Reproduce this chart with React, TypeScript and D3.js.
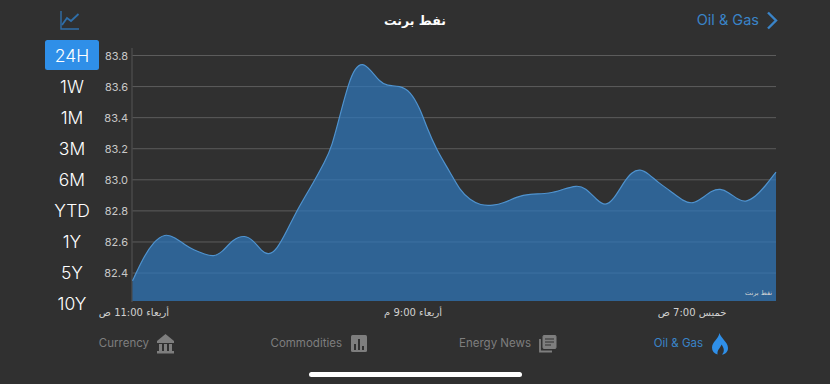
import React from "react";
import * as d3 from "d3";

const hours = [0,.39,.75,1.16,1.52,1.88,2.18,2.6,2.9,3.2,3.61,4.03,4.33,4.63,4.87,5.17,5.53,5.94,6.48,6.9,7.14,7.44,7.74,7.97,8.25,8.51,8.87,9.11,9.59,9.95,10.3,10.54,10.9,11.38,11.74,12.1,12.46,12.93,13.29,13.77,14.19,14.97,15.44,15.92,16.22,16.64,16.94,17.23,17.59,17.89,18.19,18.49,18.85,19.27,19.74,20.1,20.4,20.76,21.06,21.36,21.72,21.96,22.32,22.68,23.06];
const prices = [82.35,82.5,82.6,82.655,82.63,82.58,82.55,82.52,82.505,82.53,82.62,82.645,82.61,82.54,82.515,82.55,82.67,82.82,82.98,83.12,83.21,83.42,83.62,83.72,83.755,83.71,83.63,83.605,83.605,83.57,83.46,83.34,83.19,83.05,82.93,82.87,82.835,82.835,82.85,82.89,82.91,82.91,82.94,82.965,82.95,82.87,82.83,82.87,82.98,83.05,83.07,83.04,82.98,82.93,82.86,82.845,82.88,82.93,82.945,82.92,82.87,82.855,82.89,82.96,83.05];
const yTicks = [82.4,82.6,82.8,83.0,83.2,83.4,83.6,83.8];
const xTicks = [
  { h: 0, label: "أربعاء 11:00 ص" },
  { h: 10, label: "أربعاء 9:00 م" },
  { h: 20, label: "خميس 7:00 ص" },
];
const ranges = ["24H","1W","1M","3M","6M","YTD","1Y","5Y","10Y"];
const title = "نفط برنت";

const latin = "Inter, 'Liberation Sans', sans-serif";
const arabic = "'DejaVu Sans', sans-serif";
const BLUE = "#3a84c8";

const x = d3.scaleLinear().domain([0, 23.06]).range([132.5, 776]);
const y = d3.scaleLinear().domain([82.22, 83.8]).range([301, 55.5]);
const pts = hours.map((h, i) => [h, prices[i]] as [number, number]);
const area = d3.area<[number, number]>().x(d => x(d[0])).y0(y(82.22)).y1(d => y(d[1])).curve(d3.curveBasis);
const line = d3.line<[number, number]>().x(d => x(d[0])).y(d => y(d[1])).curve(d3.curveBasis);
const rangeY = d3.scalePoint<string>().domain(ranges).range([55, 303]);

function Tab({ label, tx, color }: { label: string; tx: number; color: string }) {
  return <text x={tx} y={347} textAnchor="end" fontFamily={latin} fontSize={11.5} fill={color}>{label}</text>;
}

export default function App() {
  return (
    <svg width={830} height={384} style={{ position: "fixed", left: 0, top: 0, background: "#303030" }}>
      <rect width={830} height={384} fill="#303030" />
      {/* chart-type icon */}
      <g fill="none" stroke="#2f6ea8" strokeWidth={1.4}>
        <path d="M61 11V29H79" />
        <path d="M62 25L67 18L71 21L78.5 14" strokeWidth={1.8} />
      </g>
      <text x={415} y={24.5} textAnchor="middle" fontFamily={arabic} fontWeight="bold" fontSize={12.5} fill="#fff" style={{ direction: "rtl" }}>{title}</text>
      <text x={759} y={25} textAnchor="end" fontFamily={latin} fontSize={14.5} fill={BLUE}>Oil &amp; Gas</text>
      <path d="M768 12.500L776 20.500L768 28.500" fill="none" stroke={BLUE} strokeWidth={2.4} />

      {/* range selector */}
      <rect x={45} y={40} width={54} height={30} rx={2.5} fill="#2f8fe8" />
      {ranges.map(r => (
        <text key={r} x={72} y={rangeY(r)! + 6.5} textAnchor="middle" fontFamily={latin} fontWeight={300} fontSize={17.5} fill="#fff">{r}</text>
      ))}

      {/* axes and grid */}
      <line x1={132} x2={132} y1={48} y2={302} stroke="#555" strokeWidth={1} />
      {yTicks.map(t => (
        <g key={t}>
          <line x1={132.5} x2={776} y1={y(t)} y2={y(t)} stroke="#5c5c5c" strokeWidth={1} />
          <text x={128} y={y(t) + 4} textAnchor="end" fontFamily={latin} fontSize={11} fill="#c8c8c8">{t.toFixed(1)}</text>
        </g>
      ))}

      {/* series */}
      <path d={area(pts)!} fill="rgb(47,121,191)" fillOpacity={0.7} />
      <path d={line(pts)!} fill="none" stroke="#4f93cf" strokeWidth={1.2} />
      <text x={772} y={295} textAnchor="start" fontFamily={arabic} fontSize={6.5} fill="#d8d8d8" style={{ direction: "rtl" }}>{title}</text>

      {xTicks.map(t => (
        <text key={t.h} x={x(t.h) + 1.5} y={316} textAnchor="middle" fontFamily={arabic} fontSize={10} fill="#d0d0d0" style={{ direction: "rtl" }}>{t.label}</text>
      ))}

      {/* bottom tabs */}
      <Tab label="Currency" tx={149} color="#7e7e7e" />
      <g fill="#7e7e7e">
        <path d="M157 341L165.500 334L174 341V343H157Z" />
        <rect x={159} y={344} width={3} height={7} />
        <rect x={164} y={344} width={3} height={7} />
        <rect x={169} y={344} width={3} height={7} />
        <rect x={157} y={351} width={17} height={2.5} />
      </g>
      <Tab label="Commodities" tx={342} color="#7e7e7e" />
      <g>
        <rect x={351} y={335} width={16} height={17} rx={1.5} fill="#7e7e7e" />
        <rect x={354} y={344} width={2} height={6} fill="#303030" />
        <rect x={358} y={339} width={2} height={11} fill="#303030" />
        <rect x={362} y={346} width={2} height={4} fill="#303030" />
      </g>
      <Tab label="Energy News" tx={531} color="#7e7e7e" />
      <g fill="none" stroke="#7e7e7e">
        <path d="M540 339V351.500H552" strokeWidth={1.8} />
        <rect x={543} y={335.5} width={13} height={13} rx={1} fill="#7e7e7e" strokeWidth={1} />
        <path d="M545 339H554M545 342H554M545 345H551" stroke="#303030" strokeWidth={1.2} />
      </g>
      <Tab label="Oil & Gas" tx={703} color={BLUE} />
      <path d="M719.500 333C720.500 338 728 342 728 348C728 352 725 354.500 722 354.500C724.500 352 724.500 348.500 721.500 344.500C720.500 348 717 349.500 717.500 354.500C714 353.500 712 351 712 347.500C712 342 718.500 339 719.500 333Z" fill="#2f8fe8" />

      {/* home indicator */}
      <rect x={309} y={372} width={213} height={5} rx={2.5} fill="#fff" />
    </svg>
  );
}
